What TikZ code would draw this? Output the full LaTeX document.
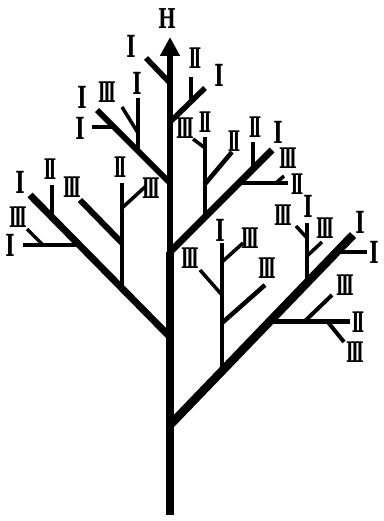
\documentclass[tikz,border=0pt]{standalone}
\usepackage{fontspec}
\newfontfamily\numfont{DejaVu Serif}
\usetikzlibrary{arrows.meta}
\newcommand{\numr}[1]{\scalebox{0.75}[1.35]{#1}}
\newcommand{\rI}{\scalebox{0.95}[1.45]{I}}
\newcommand{\rII}{\numr{I\kern-3pt I}}
\newcommand{\rIII}{\numr{I\kern-3pt I\kern-3pt I}}
\tikzset{%
    trunk/.style   = {draw=black, line width=7.5pt},
    bough/.style   = {draw=black, line width=7pt},
    limb/.style    = {draw=black, line width=4.5pt},
    twig/.style    = {draw=black, line width=3.5pt},
    numeral/.style = {inner sep=0pt, font=\numfont\fontsize{21}{21}\selectfont\bfseries},
}
\begin{document}
\begin{tikzpicture}[x=1pt, y=-1pt]
    \useasboundingbox (0,0) rectangle (383,521);

    % trunk
    \coordinate (root) at (170,515);
    \coordinate (fk1)  at (170,425);
    \coordinate (fk2)  at (170,337);
    \coordinate (fk3)  at (170,252);
    \coordinate (fk4)  at (170,183);
    \coordinate (fk5)  at (170,122);
    \coordinate (fk6)  at (170,83);
    \coordinate (tip)  at (170,37);

    \draw[trunk, line width=8.5pt] (root) -- (fk1);
    \draw[trunk] (fk1) -- (fk3);
    \draw[trunk, line width=6.5pt, -{Triangle[width=19pt,length=19pt]}] (fk3) -- (tip);
    \node (ham) [numeral] at (167,19) {\scalebox{0.9}[1.3]{H}};

    % big right bough
    \coordinate (re) at (353,235);
    \coordinate (e0) at (222,371);  \coordinate (e1) at (222,243);
    \coordinate (e2) at (222,295);  \coordinate (e3) at (200,270);
    \coordinate (e4) at (222,262);  \coordinate (e5) at (243,243);
    \coordinate (e6) at (222,323);  \coordinate (e7) at (265,285);
    \coordinate (f0) at (307,283);  \coordinate (f1) at (307,223);
    \coordinate (f2) at (307,238);  \coordinate (f3) at (296,226);
    \coordinate (f4) at (307,256);  \coordinate (f5) at (322,242);
    \coordinate (h0) at (271,321);  \coordinate (h1) at (350,321);
    \coordinate (h2) at (305,321);  \coordinate (h3) at (332,295);
    \coordinate (h4) at (327,321);  \coordinate (h5) at (344,342);
    \coordinate (g0) at (337,252);  \coordinate (g1) at (367,252);

    \draw[bough, line width=8.5pt] (fk1) -- (re);
    \draw[limb] (e0) -- (e1);
    \draw[twig] (e2) -- (e3);
    \draw[twig] (e4) -- (e5);
    \draw[limb] (e6) -- (e7);
    \draw[limb] (f0) -- (f1);
    \draw[twig] (f2) -- (f3);
    \draw[twig] (f4) -- (f5);
    \draw[limb, line width=5pt] (h0) -- (h1);
    \draw[twig, line width=4pt] (h2) -- (h3);
    \draw[twig, line width=4pt] (h4) -- (h5);
    \draw[twig, line width=4pt] (g0) -- (g1);

    % left bough
    \coordinate (le) at (30,195);
    \coordinate (l0) at (52,218);   \coordinate (l1) at (52,185);
    \coordinate (l2) at (78,245);   \coordinate (l3) at (23,245);
    \coordinate (l4) at (43,245);   \coordinate (l5) at (27,229);
    \coordinate (m0) at (122,290);  \coordinate (m1) at (122,183);
    \coordinate (m2) at (122,243);  \coordinate (m3) at (80,200);
    \coordinate (m4) at (122,208);  \coordinate (m5) at (146,186);

    \draw[bough] (fk2) -- (le);
    \draw[twig] (l0) -- (l1);
    \draw[twig, line width=4.5pt] (l2) -- (l3);
    \draw[twig] (l4) -- (l5);
    \draw[limb] (m0) -- (m1);
    \draw[limb, line width=6pt] (m2) -- (m3);
    \draw[twig] (m4) -- (m5);

    % upper right bough
    \coordinate (ve) at (272,150);
    \coordinate (v0) at (205,217);  \coordinate (v1) at (205,137);
    \coordinate (v2) at (205,148);  \coordinate (v3) at (193,139);
    \coordinate (v4) at (205,184);  \coordinate (v5) at (232,152);
    \coordinate (w0) at (253,169);  \coordinate (w1) at (253,142);
    \coordinate (x0) at (239,183);  \coordinate (x1) at (288,183);
    \coordinate (x2) at (276,183);  \coordinate (x3) at (284,176);

    \draw[bough] (fk3) -- (ve);
    \draw[limb] (v0) -- (v1);
    \draw[twig] (v2) -- (v3);
    \draw[limb] (v4) -- (v5);
    \draw[twig] (w0) -- (w1);
    \draw[limb] (x0) -- (x1);
    \draw[twig] (x2) -- (x3);

    % upper left bough
    \coordinate (ue) at (97,110);
    \coordinate (u0) at (138,151);  \coordinate (u1) at (138,98);
    \coordinate (u2) at (138,133);  \coordinate (u3) at (122,107);
    \coordinate (u4) at (114,127);  \coordinate (u5) at (92,127);

    \draw[bough, line width=6pt] (fk4) -- (ue);
    \draw[twig] (u0) -- (u1);
    \draw[twig] (u2) -- (u3);
    \draw[twig] (u4) -- (u5);

    % top twigs
    \coordinate (tr) at (205,88);
    \coordinate (s0) at (191,101);  \coordinate (s1) at (191,77);
    \coordinate (tl) at (146,58);

    \draw[limb, line width=5.5pt] (fk5) -- (tr);
    \draw[twig] (s0) -- (s1);
    \draw[limb, line width=5.5pt] (fk6) -- (tl);

    % numerals
    \node (n01) [numeral] at (131,46)  {\rI};
    \node (n02) [numeral] at (195,58)  {\rII};
    \node (n03) [numeral] at (219,75)  {\rI};
    \node (n04) [numeral] at (82,97)   {\rI};
    \node (n05) [numeral] at (107,92)  {\rIII};
    \node (n06) [numeral] at (137,83)  {\rI};
    \node (n07) [numeral] at (80,128)  {\rI};
    \node (n08) [numeral] at (185,128) {\rIII};
    \node (n09) [numeral] at (205,122) {\rII};
    \node (n10) [numeral] at (234,141) {\rII};
    \node (n11) [numeral] at (255,127) {\rII};
    \node (n12) [numeral] at (278,132) {\rI};
    \node (n13) [numeral] at (288,158) {\rIII};
    \node (n14) [numeral] at (297,184) {\rII};
    \node (n15) [numeral] at (20,182)  {\rI};
    \node (n16) [numeral] at (50,169)  {\rII};
    \node (n17) [numeral] at (72,187)  {\rIII};
    \node (n18) [numeral] at (120,167) {\rII};
    \node (n19) [numeral] at (151,188) {\rIII};
    \node (n20) [numeral] at (18,217)  {\rIII};
    \node (n21) [numeral] at (10,245)  {\rI};
    \node (n22) [numeral] at (190,258) {\rIII};
    \node (n23) [numeral] at (220,230) {\rI};
    \node (n24) [numeral] at (250,238) {\rIII};
    \node (n25) [numeral] at (267,268) {\rIII};
    \node (n26) [numeral] at (283,215) {\rIII};
    \node (n27) [numeral] at (308,206) {\rI};
    \node (n28) [numeral] at (325,228) {\rIII};
    \node (n29) [numeral] at (360,222) {\rI};
    \node (n30) [numeral] at (374,252) {\rI};
    \node (n31) [numeral] at (345,285) {\rIII};
    \node (n32) [numeral] at (358,322) {\rII};
    \node (n33) [numeral] at (355,352) {\rIII};
\end{tikzpicture}
\end{document}
